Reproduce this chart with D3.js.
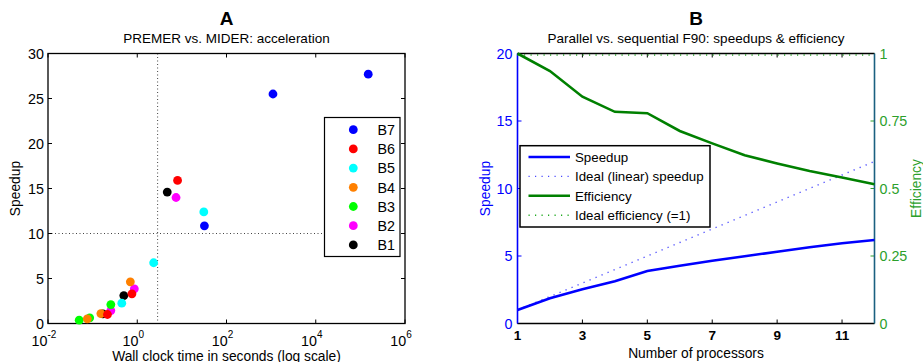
<!DOCTYPE html>
<html>
<head>
<meta charset="utf-8">
<script src="https://cdn.jsdelivr.net/npm/d3@7"></script>
<style>
  body { margin: 0; background: #fff; }
  svg { font-family: "Liberation Sans", Arial, sans-serif; }
</style>
</head>
<body>
<div id="chart"></div>
<script>
// ---- panel A data: wall clock time (s) and speedup per benchmark
const groups = ["B7", "B6", "B5", "B4", "B3", "B2", "B1"];
const groupColors = ["#0000ff", "#ff0000", "#00ffff", "#ff8000", "#00ff00", "#ff00ff", "#000000"];
const times = {
  B7: [1.5e5, 1.1e3, 32],
  B6: [8.0, 0.76, 0.215],
  B5: [31, 2.33, 0.45],
  B4: [0.70, 0.153, 0.076],
  B3: [0.256, 0.086, 0.050],
  B2: [7.4, 0.86, 0.256],
  B1: [4.7, 0.50, 0.17]
};
const speedups = {
  B7: [27.7, 25.5, 10.85],
  B6: [15.9, 3.3, 1.0],
  B5: [12.4, 6.75, 2.26],
  B4: [4.63, 1.1, 0.52],
  B3: [2.1, 0.63, 0.37],
  B2: [14.0, 3.85, 1.44],
  B1: [14.6, 3.1, 1.08]
};
const xTicksA = [1e-2, 1e0, 1e2, 1e4, 1e6];
const yTicksA = [0, 5, 10, 15, 20, 25, 30];
const refTime = 2.86, refSpeedup = 10;

// ---- panel B data: processors, speedup, efficiency
const procs = [1, 2, 3, 4, 5, 6, 7, 8, 9, 10, 11, 12];
const speedupB = [1, 1.87, 2.53, 3.13, 3.89, 4.28, 4.65, 4.98, 5.32, 5.65, 5.94, 6.18];
const efficiency = [1, 0.935, 0.84, 0.784, 0.779, 0.713, 0.667, 0.623, 0.593, 0.565, 0.541, 0.516];
const xTicksB = [1, 3, 5, 7, 9, 11];
const yTicksB = [0, 5, 10, 15, 20];
const effTicks = [0, 0.25, 0.5, 0.75, 1];
const effTickLabels = ["0", "0.25", "0.5", "0.75", "1"];
const legendB = ["Speedup", "Ideal (linear) speedup", "Efficiency", "Ideal efficiency (=1)"];

const BLUE = "#0000ff", GREEN = "#008000", LGREEN = "#2ca02c";
const W = 923, H = 362;
const TICK = 4;
const FS = 13.8;   // label font size
const TFS = 14.3;  // tick font size

const svg = d3.select("#chart").append("svg")
    .attr("width", W).attr("height", H);

// ================= Panel A =================
const a = {left: 48, right: 405, top: 53.5, bottom: 323.5};
const xA = d3.scaleLog().domain([1e-2, 1e6]).range([a.left, a.right]);
const yA = d3.scaleLinear().domain([0, 30]).range([a.bottom, a.top]);
const gA = svg.append("g");

gA.append("text").attr("x", (a.left + a.right) / 2).attr("y", 25)
    .attr("text-anchor", "middle").attr("font-size", 19).attr("font-weight", "bold").text("A");
gA.append("text").attr("x", (a.left + a.right) / 2).attr("y", 43)
    .attr("text-anchor", "middle").attr("font-size", 13.5).text("PREMER vs. MIDER: acceleration");

// reference lines
gA.append("line").attr("x1", xA(refTime)).attr("x2", xA(refTime))
    .attr("y1", a.top).attr("y2", a.bottom)
    .attr("stroke", "#444").attr("stroke-dasharray", "1,2.5");
gA.append("line").attr("x1", a.left).attr("x2", a.right)
    .attr("y1", yA(refSpeedup)).attr("y2", yA(refSpeedup))
    .attr("stroke", "#444").attr("stroke-dasharray", "1,2.5");

// ticks on all sides
yTicksA.forEach(v => {
  gA.append("line").attr("x1", a.left).attr("x2", a.left + TICK).attr("y1", yA(v)).attr("y2", yA(v)).attr("stroke", "#000");
  gA.append("line").attr("x1", a.right).attr("x2", a.right - TICK).attr("y1", yA(v)).attr("y2", yA(v)).attr("stroke", "#000");
  gA.append("text").attr("x", a.left - 4).attr("y", yA(v) + 5)
      .attr("text-anchor", "end").attr("font-size", TFS).text(v);
});
xTicksA.forEach(v => {
  gA.append("line").attr("x1", xA(v)).attr("x2", xA(v)).attr("y1", a.bottom).attr("y2", a.bottom - TICK).attr("stroke", "#000");
  gA.append("line").attr("x1", xA(v)).attr("x2", xA(v)).attr("y1", a.top).attr("y2", a.top + TICK).attr("stroke", "#000");
  const t = gA.append("text").attr("x", xA(v) - 4).attr("y", 345.5)
      .attr("text-anchor", "middle").attr("font-size", TFS);
  t.append("tspan").text("10");
  t.append("tspan").attr("dy", -8).attr("font-size", 10).text(Math.round(Math.log10(v)));
});

gA.append("rect").attr("x", a.left).attr("y", a.top)
    .attr("width", a.right - a.left).attr("height", a.bottom - a.top)
    .attr("fill", "none").attr("stroke", "#000").attr("stroke-width", 1.3);

// points: draw from B1 up to B7 so B7 lies on top
groups.slice().reverse().forEach(gname => {
  const col = groupColors[groups.indexOf(gname)];
  times[gname].forEach((t, i) => {
    gA.append("circle").attr("cx", xA(t)).attr("cy", yA(speedups[gname][i]))
        .attr("r", 4.4).attr("fill", col);
  });
});

// legend A
const legA = gA.append("g");
legA.append("rect").attr("x", 324.5).attr("y", 117.5).attr("width", 75.5).attr("height", 139)
    .attr("fill", "#fff").attr("stroke", "#000").attr("stroke-width", 1.2);
groups.forEach((gname, i) => {
  const yy = 129.7 + i * 19.2;
  legA.append("circle").attr("cx", 353.3).attr("cy", yy).attr("r", 4.4).attr("fill", groupColors[i]);
  legA.append("text").attr("x", 377.5).attr("y", yy + 5.2).attr("font-size", TFS).text(gname);
});

gA.append("text").attr("x", (a.left + a.right) / 2).attr("y", 360.5)
    .attr("text-anchor", "middle").attr("font-size", FS).text("Wall clock time in seconds (log scale)");
gA.append("text").attr("transform", `translate(20,${(a.top + a.bottom) / 2}) rotate(-90)`)
    .attr("text-anchor", "middle").attr("font-size", FS).text("Speedup");

// ================= Panel B =================
const b = {left: 517.5, right: 874.5, top: 53.5, bottom: 323.5};
const xB = d3.scaleLinear().domain([1, 12]).range([b.left, b.right]);
const yB = d3.scaleLinear().domain([0, 20]).range([b.bottom, b.top]);
const yE = d3.scaleLinear().domain([0, 1]).range([b.bottom, b.top]);
const gB = svg.append("g");

gB.append("text").attr("x", (b.left + b.right) / 2).attr("y", 25)
    .attr("text-anchor", "middle").attr("font-size", 19).attr("font-weight", "bold").text("B");
gB.append("text").attr("x", (b.left + b.right) / 2).attr("y", 43)
    .attr("text-anchor", "middle").attr("font-size", 13.5).text("Parallel vs. sequential F90: speedups & efficiency");

// x ticks top + bottom
xTicksB.forEach(v => {
  gB.append("line").attr("x1", xB(v)).attr("x2", xB(v)).attr("y1", b.bottom).attr("y2", b.bottom - TICK).attr("stroke", "#000");
  gB.append("line").attr("x1", xB(v)).attr("x2", xB(v)).attr("y1", b.top).attr("y2", b.top + TICK).attr("stroke", "#000");
  gB.append("text").attr("x", xB(v)).attr("y", 340)
      .attr("text-anchor", "middle").attr("font-size", 13.5).attr("font-weight", "bold").text(v);
});
yTicksB.forEach(v => {
  gB.append("line").attr("x1", b.left).attr("x2", b.left + TICK).attr("y1", yB(v)).attr("y2", yB(v)).attr("stroke", BLUE);
  gB.append("text").attr("x", b.left - 5).attr("y", yB(v) + 5)
      .attr("text-anchor", "end").attr("font-size", TFS).attr("fill", BLUE).text(v);
});
effTicks.forEach((v, i) => {
  gB.append("line").attr("x1", b.right).attr("x2", b.right - TICK).attr("y1", yE(v)).attr("y2", yE(v)).attr("stroke", LGREEN);
  gB.append("text").attr("x", b.right + 5).attr("y", yE(v) + 5)
      .attr("font-size", TFS).attr("fill", LGREEN).text(effTickLabels[i]);
});

// axis frame
gB.append("line").attr("x1", b.left).attr("x2", b.right).attr("y1", b.top).attr("y2", b.top).attr("stroke", "#000").attr("stroke-width", 1.3);
gB.append("line").attr("x1", b.left).attr("x2", b.right).attr("y1", b.bottom).attr("y2", b.bottom).attr("stroke", "#000").attr("stroke-width", 1.6);
gB.append("line").attr("x1", b.left).attr("x2", b.left).attr("y1", b.top).attr("y2", b.bottom).attr("stroke", BLUE).attr("stroke-width", 1.6);
gB.append("line").attr("x1", b.right).attr("x2", b.right).attr("y1", b.top).attr("y2", b.bottom).attr("stroke", "#1a6080").attr("stroke-width", 1.6);

const lineS = d3.line().x((d, i) => xB(procs[i])).y(d => yB(d));
const lineE = d3.line().x((d, i) => xB(procs[i])).y(d => yE(d));

// ideal lines
gB.append("path").datum(procs).attr("d", lineS)
    .attr("fill", "none").attr("stroke", "#4848ff").attr("stroke-width", 1.4).attr("stroke-dasharray", "1.2,5.3");
gB.append("path").datum(procs.map(() => 1)).attr("d", lineE).attr("transform", "translate(0,1.5)")
    .attr("fill", "none").attr("stroke", LGREEN).attr("stroke-width", 1.4).attr("stroke-dasharray", "1.2,5.3");

// measured lines
gB.append("path").datum(efficiency).attr("d", lineE)
    .attr("fill", "none").attr("stroke", GREEN).attr("stroke-width", 2.6);
gB.append("path").datum(speedupB).attr("d", lineS)
    .attr("fill", "none").attr("stroke", BLUE).attr("stroke-width", 2.6);

// legend B
const legB = gB.append("g");
legB.append("rect").attr("x", 520).attr("y", 145.7).attr("width", 190).attr("height", 81.3)
    .attr("fill", "#fff").attr("stroke", "#000").attr("stroke-width", 1.5);
const legStyles = [
  {c: BLUE, w: 2.6, d: null},
  {c: "#4848ff", w: 1.4, d: "1.2,5.3"},
  {c: GREEN, w: 2.6, d: null},
  {c: "#22aa22", w: 1.6, d: "1.2,5.3"}
];
legendB.forEach((lab, i) => {
  const yy = 157 + i * 19.4;
  legB.append("line").attr("x1", 528.5).attr("x2", 570).attr("y1", yy).attr("y2", yy)
      .attr("stroke", legStyles[i].c).attr("stroke-width", legStyles[i].w)
      .attr("stroke-dasharray", legStyles[i].d);
  legB.append("text").attr("x", 575).attr("y", yy + 5).attr("font-size", 13.3).text(lab);
});

gB.append("text").attr("x", (b.left + b.right) / 2).attr("y", 357.5)
    .attr("text-anchor", "middle").attr("font-size", FS).text("Number of processors");
gB.append("text").attr("transform", `translate(490,${(b.top + b.bottom) / 2}) rotate(-90)`)
    .attr("text-anchor", "middle").attr("font-size", FS).attr("fill", BLUE).text("Speedup");
gB.append("text").attr("transform", `translate(921,${(b.top + b.bottom) / 2}) rotate(-90)`)
    .attr("text-anchor", "middle").attr("font-size", FS).attr("fill", LGREEN).text("Efficiency");
</script>
</body>
</html>
